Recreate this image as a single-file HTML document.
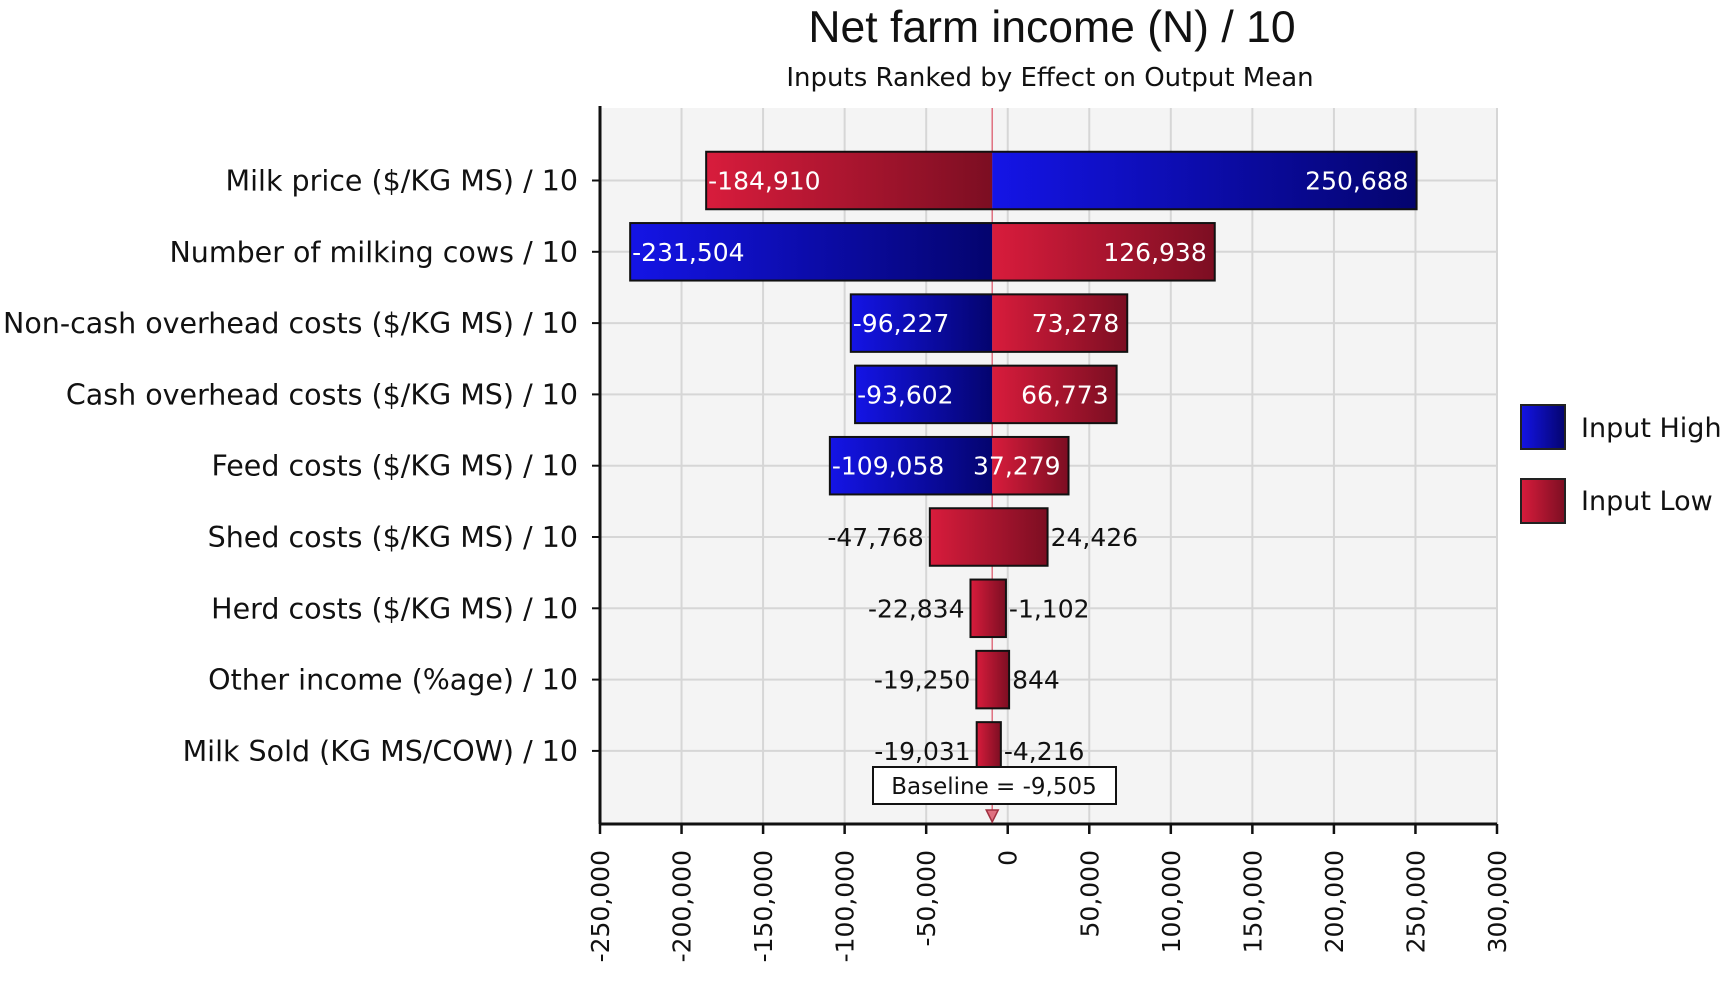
<!DOCTYPE html>
<html><head><meta charset="utf-8"><style>
html,body{margin:0;padding:0;background:#fff;}
svg{display:block;font-family:"DejaVu Sans","Liberation Sans",sans-serif;}
</style></head><body>
<svg id="chart" width="1736" height="984" viewBox="0 0 1736 984">
<defs>
<linearGradient id="gRed" x1="0" x2="1" y1="0" y2="0"><stop offset="0" stop-color="#d81c3c"/><stop offset="1" stop-color="#7c0e22"/></linearGradient>
<linearGradient id="gBlue" x1="0" x2="1" y1="0" y2="0"><stop offset="0" stop-color="#1414e6"/><stop offset="1" stop-color="#04046e"/></linearGradient>
</defs>
<text x="1052" y="42" font-size="44.5" text-anchor="middle" fill="#111" font-family="Liberation Sans, sans-serif">Net farm income (N) / 10</text>
<text x="1050" y="86" font-size="26" text-anchor="middle" fill="#111">Inputs Ranked by Effect on Output Mean</text>
<rect x="600" y="108" width="897" height="716" fill="#f4f4f4"/>
<g id="grid"></g>
<g id="bars"></g>
<g id="axes"></g>
<g>
<rect x="1521" y="405" width="44" height="44" fill="url(#gBlue)" stroke="#222" stroke-width="2"/>
<text x="1581" y="437" font-size="27" fill="#111">Input High</text>
<rect x="1521" y="479" width="44" height="44" fill="url(#gRed)" stroke="#222" stroke-width="2"/>
<text x="1581" y="510" font-size="27" fill="#111">Input Low</text>
</g>
</svg>
<script>
const categories = ["Milk price ($/KG MS) / 10","Number of milking cows / 10","Non-cash overhead costs ($/KG MS) / 10","Cash overhead costs ($/KG MS) / 10","Feed costs ($/KG MS) / 10","Shed costs ($/KG MS) / 10","Herd costs ($/KG MS) / 10","Other income (%age) / 10","Milk Sold (KG MS/COW) / 10"];
const lowValues = [-184910,-231504,-96227,-93602,-109058,-47768,-22834,-19250,-19031];
const highValues = [250688,126938,73278,66773,37279,24426,-1102,844,-4216];
const leftSeries = ["low","high","high","high","high","low","low","low","low"];
const rightSeries = ["high","low","low","low","low","low","low","low","low"];
const baseline = -9505;
const xTicks = [-250000,-200000,-150000,-100000,-50000,0,50000,100000,150000,200000,250000,300000];

const NS="http://www.w3.org/2000/svg";
const L=600,R=1497,T=108,B=824,xMin=-250000,xMax=300000;
const X=v=>L+(v-xMin)/(xMax-xMin)*(R-L);
const Y0=180.5,step=71.3,bh=57.5;
const Y=i=>Y0+i*step;
const fmt=v=>(v<0?"-":"")+Math.abs(v).toLocaleString("en-US");
function mk(tag,attrs,parent,txt){const e=document.createElementNS(NS,tag);for(const k in attrs)e.setAttribute(k,attrs[k]);if(txt!==undefined)e.textContent=txt;parent.appendChild(e);return e;}
const grid=document.getElementById("grid"),bars=document.getElementById("bars"),axes=document.getElementById("axes");
xTicks.forEach(t=>{const l=mk("line",{x1:X(t),x2:X(t),y1:T,y2:B,stroke:"#d6d6d6","stroke-width":2},grid);

});
categories.forEach((c,i)=>{const l=mk("line",{x1:L,x2:R,y1:Y(i),y2:Y(i),stroke:"#d6d6d6","stroke-width":2},grid);

});
const bl=mk("line",{x1:X(baseline),x2:X(baseline),y1:T,y2:B,stroke:"#e07080","stroke-width":1.5},grid);


categories.forEach((c,i)=>{
  const lo=Math.min(lowValues[i],highValues[i]),hi=Math.max(lowValues[i],highValues[i]);
  const y=Y(i)-bh/2,xb=X(baseline);
  const segs=[];
  if(leftSeries[i]===rightSeries[i]){segs.push([X(lo),X(hi),leftSeries[i]]);}
  else{
    if(lo<baseline)segs.push([X(lo),Math.min(xb,X(hi)),leftSeries[i]]);
    if(hi>baseline)segs.push([Math.max(xb,X(lo)),X(hi),rightSeries[i]]);
  }
  segs.forEach(s=>{const r=mk("rect",{x:s[0],y:y,width:s[1]-s[0],height:bh,fill:s[2]=="high"?"url(#gBlue)":"url(#gRed)"},bars);
    
    });
  const o=mk("rect",{x:X(lo),y:y,width:X(hi)-X(lo),height:bh,fill:"none",stroke:"#111","stroke-width":2},bars);
  
  
  const ty=Y(i)+9;
  const lw=xb-X(lo),rw=X(hi)-xb;
  const a=lw>70?mk("text",{x:X(lo)+2,y:ty,"font-size":25,fill:"#fff"},bars,fmt(lo)):mk("text",{x:X(lo)-6,y:ty,"font-size":25,fill:"#111","text-anchor":"end"},bars,fmt(lo));
  
  
  const b=rw>70?mk("text",{x:X(hi)-8,y:ty,"font-size":25,fill:"#fff","text-anchor":"end"},bars,fmt(hi)):mk("text",{x:X(hi)+3,y:ty,"font-size":25,fill:"#111"},bars,fmt(hi));
  
  
  const lab=mk("text",{x:578,y:Y(i)+10,"font-size":28.5,fill:"#111","text-anchor":"end"},axes,c);
  
  
  const tk=mk("line",{x1:L-8,x2:L,y1:Y(i),y2:Y(i),stroke:"#111","stroke-width":2},axes);
  
  
});
const ya=mk("line",{x1:L,x2:L,y1:T-2,y2:B,stroke:"#111","stroke-width":3},axes);


const xa=mk("line",{x1:L,x2:R,y1:B,y2:B,stroke:"#111","stroke-width":3},axes);


xTicks.forEach(t=>{const tk=mk("line",{x1:X(t),x2:X(t),y1:B,y2:B+10,stroke:"#111","stroke-width":2.5},axes);
  
  
  const tx=mk("text",{x:0,y:0,"font-size":25,fill:"#111","text-anchor":"end",transform:"translate("+(X(t)+9)+",850) rotate(-90)"},axes,fmt(t));
  
  });
const bx=X(baseline);
const box=mk("rect",{x:873,y:767,width:243,height:37,fill:"#fff",stroke:"#111","stroke-width":2},axes);


const bt=mk("text",{x:994,y:794,"font-size":23,fill:"#111","text-anchor":"middle"},axes,"Baseline = "+fmt(baseline));


const ar=mk("path",{d:"M"+(bx-6)+",810 L"+(bx+6)+",810 L"+bx+",822 Z",fill:"#e07080",stroke:"#a03040","stroke-width":1.5},axes);


</script>
</body></html>
